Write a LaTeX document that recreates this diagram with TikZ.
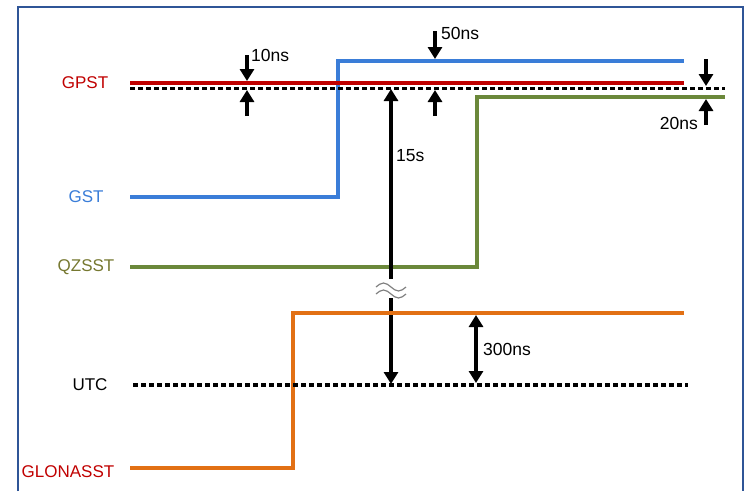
\documentclass[tikz,border=0pt]{standalone}
\usepackage{fontspec}
\setmainfont{Liberation Sans}
\usetikzlibrary{arrows.meta}

\definecolor{gpstred}{RGB}{192,0,0}
\definecolor{gstblue}{RGB}{58,125,216}
\definecolor{qzgreen}{RGB}{107,136,58}
\definecolor{qzlabel}{RGB}{118,120,48}
\definecolor{glorange}{RGB}{226,112,20}
\definecolor{framecol}{RGB}{47,85,151}

\begin{document}
\begin{tikzpicture}[x=1pt, y=-1pt,
    lbl/.style = {font=\fontsize{17}{20}\selectfont, inner sep=0pt},
    val/.style = {font=\fontsize{17.5}{20}\selectfont, inner sep=0pt, anchor=west},
    sig/.style = {line width=3.8pt},
    ref/.style = {line width=3.4pt, dash pattern=on 5pt off 3pt},
    gap/.style = {line width=3.6pt, -{Triangle[width=14pt, length=12pt]}},
  ]
  \useasboundingbox (0,0) rectangle (745,491);
  \draw[framecol, line width=2.2pt] (18,491) -- (18,7) -- (743,7) -- (743,491);

  % time scale names
  \node[lbl, text=gpstred]  (gpst) at (85,83)  {GPST};
  \node[lbl, text=gstblue]  (gst)  at (86,197) {GST};
  \node[lbl, text=qzlabel]  (qzss) at (86,267) {QZSST};
  \node[lbl]                (utc)  at (90,385) {UTC};
  \node[lbl, text=gpstred]  (glo)  at (68,472) {GLONASST};

  % corners of the traces
  \coordinate (gst0) at (130,197);  \coordinate (gst1) at (338,197);
  \coordinate (gst2) at (338,61);   \coordinate (gst3) at (684,61);
  \coordinate (qz0)  at (130,267);  \coordinate (qz1)  at (477,267);
  \coordinate (qz2)  at (477,97);   \coordinate (qz3)  at (725,97);
  \coordinate (glo0) at (130,468);  \coordinate (glo1) at (293,468);
  \coordinate (glo2) at (293,313);  \coordinate (glo3) at (684,313);
  \coordinate (gpsA) at (130,83);   \coordinate (gpsB) at (684,83);
  \coordinate (refA) at (130,88.5); \coordinate (refB) at (725,88.5);
  \coordinate (utcA) at (133,385);  \coordinate (utcB) at (688,385);

  \draw[sig, gstblue]  (gst0) -- (gst1) -- (gst2) -- (gst3);
  \draw[sig, qzgreen]  (qz0) -- (qz1) -- (qz2) -- (qz3);

  % 15s between GPST and UTC, broken
  \coordinate (s15top) at (391,89);
  \coordinate (s15brk) at (391,279);
  \coordinate (s15res) at (391,298);
  \coordinate (s15bot) at (391,384);
  \draw[gap] (s15brk) -- (s15top);
  \draw[gap] (s15res) -- (s15bot);
  \draw[gray, line width=1.2pt] (376,287) sin (383.5,283) cos (391,287) sin (398.5,291) cos (406,287);
  \draw[gray, line width=1.2pt] (376,294) sin (383.5,290) cos (391,294) sin (398.5,298) cos (406,294);
  \node[val] (l15) at (396,156) {15s};

  \draw[sig, glorange] (glo0) -- (glo1) -- (glo2) -- (glo3);
  \draw[sig, gpstred]  (gpsA) -- (gpsB);
  \draw[ref] (refA) -- (refB);
  \draw[ref] (utcA) -- (utcB);

  % 10ns
  \coordinate (a10t) at (247,55);  \coordinate (a10h) at (247,81);
  \coordinate (a10b) at (247,116); \coordinate (a10l) at (247,90);
  \draw[gap] (a10t) -- (a10h);
  \draw[gap] (a10b) -- (a10l);
  \node[val] (l10) at (251,55) {10ns};

  % 50ns
  \coordinate (a50t) at (435,31);  \coordinate (a50h) at (435,59);
  \coordinate (a50b) at (435,116); \coordinate (a50l) at (435,90);
  \draw[gap] (a50t) -- (a50h);
  \draw[gap] (a50b) -- (a50l);
  \node[val] (l50) at (441,33) {50ns};

  % 20ns
  \coordinate (a20t) at (706,59);  \coordinate (a20h) at (706,86);
  \coordinate (a20b) at (706,125); \coordinate (a20l) at (706,99);
  \draw[gap] (a20t) -- (a20h);
  \draw[gap] (a20b) -- (a20l);
  \node[val, anchor=east] (l20) at (698,123) {20ns};

  % 300ns
  \coordinate (a300t) at (476,315); \coordinate (a300b) at (476,383);
  \draw[gap, {Triangle[width=14pt, length=12pt]}-{Triangle[width=14pt, length=12pt]}] (a300t) -- (a300b);
  \node[val] (l300) at (483,349) {300ns};
\end{tikzpicture}
\end{document}
